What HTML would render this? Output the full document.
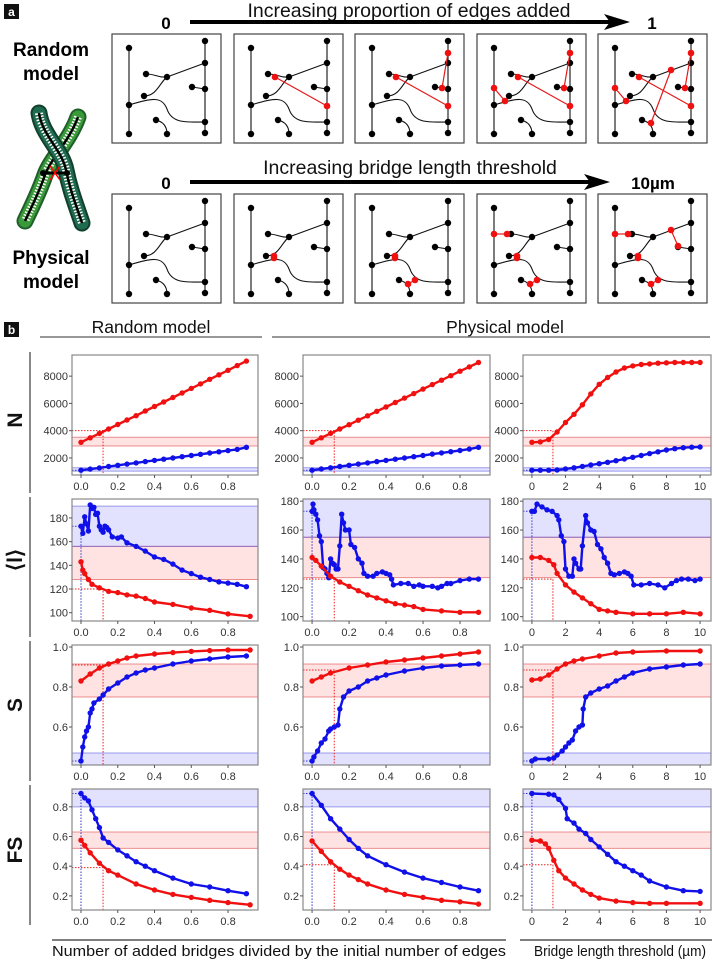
<!DOCTYPE html>
<html><head><meta charset="utf-8"><style>
html,body{margin:0;padding:0;background:#fff;}
svg{display:block;font-family:"Liberation Sans",sans-serif;}
</style></head><body>
<svg id="fig" width="713" height="960" viewBox="0 0 713 960" xmlns="http://www.w3.org/2000/svg">
<g id="panelA">
 <rect x="4" y="4" width="15" height="15" fill="#111"/>
 <text x="11.5" y="16" font-size="12" font-weight="bold" fill="#fff" text-anchor="middle">a</text>
 <text x="409" y="17" font-size="19.5" text-anchor="middle" fill="#111">Increasing proportion of edges added</text>
 <text x="166" y="29" font-size="17" font-weight="bold" text-anchor="middle">0</text>
 <line x1="190" y1="22" x2="614" y2="22" stroke="#000" stroke-width="4"/>
 <polygon points="604,14 630,22 604,30 610,22" fill="#000"/>
 <text x="652" y="29" font-size="17" font-weight="bold" text-anchor="middle">1</text>
 <text x="410" y="174" font-size="19.5" text-anchor="middle" fill="#111">Increasing bridge length threshold</text>
 <text x="166" y="189" font-size="17" font-weight="bold" text-anchor="middle">0</text>
 <line x1="190" y1="182" x2="594" y2="182" stroke="#000" stroke-width="4"/>
 <polygon points="584,174 610,182 584,190 590,182" fill="#000"/>
 <text x="653" y="189" font-size="17" font-weight="bold" text-anchor="middle">10µm</text>
 <text x="51" y="56" font-size="19" font-weight="bold" text-anchor="middle"><tspan x="51">Random</tspan><tspan x="51" dy="24">model</tspan></text>
 <text x="51" y="264" font-size="19" font-weight="bold" text-anchor="middle"><tspan x="51">Physical</tspan><tspan x="51" dy="24">model</tspan></text>
 <g>
  <path d="M78,117 C70,140 50,160 45,175 C38,195 30,210 25,221" fill="none" stroke="#1e5f2a" stroke-width="17" stroke-linecap="round"/>
  <path d="M78,117 C70,140 50,160 45,175 C38,195 30,210 25,221" fill="none" stroke="#3a9a3a" stroke-width="13" stroke-linecap="round"/>
  <path d="M78,117 C70,140 50,160 45,175 C38,195 30,210 25,221" fill="none" stroke="#fff" stroke-width="8" stroke-dasharray="1.5 1.5"/>
  <path d="M78,117 C70,140 50,160 45,175 C38,195 30,210 25,221" fill="none" stroke="#000" stroke-width="2.5"/>
  <path d="M39,113 C42,135 62,150 66,170 C70,190 76,205 82,223" fill="none" stroke="#123f2e" stroke-width="17" stroke-linecap="round"/>
  <path d="M39,113 C42,135 62,150 66,170 C70,190 76,205 82,223" fill="none" stroke="#1f6b50" stroke-width="13" stroke-linecap="round"/>
  <path d="M39,113 C42,135 62,150 66,170 C70,190 76,205 82,223" fill="none" stroke="#fff" stroke-width="8" stroke-dasharray="1.5 1.5"/>
  <path d="M39,113 C42,135 62,150 66,170 C70,190 76,205 82,223" fill="none" stroke="#000" stroke-width="2.5"/>
  <line x1="43" y1="173" x2="67" y2="173" stroke="#000" stroke-width="3"/>
  <circle cx="43" cy="173" r="3" fill="#000"/><circle cx="67" cy="173" r="3" fill="#000"/>
  <path d="M50,166 L60,180 M60,166 L50,180" stroke="#f00" stroke-width="1.5"/>
 </g>
 <g id="boxes"></g>
</g>
<g id="panelB">
 <rect x="4" y="322" width="15" height="15" fill="#111"/>
 <text x="11.5" y="334" font-size="12" font-weight="bold" fill="#fff" text-anchor="middle">b</text>
 <text x="151" y="333" font-size="17.5" text-anchor="middle" fill="#111">Random model</text>
 <line x1="40" y1="337" x2="262" y2="337" stroke="#777" stroke-width="1.5"/>
 <text x="505" y="333" font-size="17.5" text-anchor="middle" fill="#111">Physical model</text>
 <line x1="272" y1="337" x2="710" y2="337" stroke="#777" stroke-width="1.5"/>
 <line x1="52" y1="940" x2="506" y2="940" stroke="#555" stroke-width="1.5"/>
 <text x="52" y="956" font-size="15" textLength="454" lengthAdjust="spacingAndGlyphs" fill="#111">Number of added bridges divided by the initial number of edges</text>
 <line x1="520" y1="940" x2="712" y2="940" stroke="#555" stroke-width="1.5"/>
 <text x="534" y="956" font-size="15" textLength="172" lengthAdjust="spacingAndGlyphs" fill="#111">Bridge length threshold (µm)</text>
 <g id="charts"></g>
</g>
</svg>
<script>
// ---------- chart data ----------
const xTicksFrac = [0, 0.2, 0.4, 0.6, 0.8];
const xTickLabelsFrac = ["0.0", "0.2", "0.4", "0.6", "0.8"];
const xTicksThr = [0, 2, 4, 6, 8, 10];
const xTickLabelsThr = ["0", "2", "4", "6", "8", "10"];
const yTicksN = [2000, 4000, 6000, 8000];
const yTicksL = [100, 120, 140, 160, 180];
const yTicksS = [0.6, 0.8, 1.0];
const yTickLabelsS = ["0.6", "0.8", "1.0"];
const yTicksFS = [0.2, 0.4, 0.6, 0.8];
const yTickLabelsFS = ["0.2", "0.4", "0.6", "0.8"];

const fracX = [0,0.05,0.1,0.15,0.2,0.25,0.3,0.35,0.4,0.45,0.5,0.55,0.6,0.65,0.7,0.75,0.8,0.85,0.9];
// N row
const nRandRed = [3150,3480,3800,4120,4450,4780,5100,5440,5770,6100,6430,6760,7100,7430,7770,8100,8430,8770,9100];
const nRandBlue = [1100,1180,1270,1370,1460,1550,1640,1730,1820,1910,2000,2090,2180,2270,2360,2450,2540,2630,2780];
const nPhysRed = [3150,3480,3800,4120,4440,4770,5090,5420,5740,6070,6390,6720,7050,7380,7700,8030,8360,8680,9000];
const nPhysBlue = [1100,1190,1280,1370,1460,1550,1640,1730,1820,1910,2000,2090,2180,2280,2370,2460,2550,2650,2780];
const thrXN = [0,0.5,1,1.5,2,2.5,3,3.5,4,4.5,5,5.5,6,6.5,7,7.5,8,8.5,9,9.5,10];
const nThrRed = [3150,3180,3350,3900,4600,5200,5900,6700,7400,7900,8300,8600,8750,8850,8900,8950,8980,9000,9000,9000,9000];
const nThrBlue = [1100,1100,1100,1120,1200,1280,1380,1480,1580,1680,1800,1920,2050,2180,2320,2450,2580,2680,2750,2790,2800];
// <l> row
const lRandBlueX = [0,0.01,0.02,0.03,0.04,0.05,0.06,0.07,0.08,0.09,0.1,0.11,0.12,0.13,0.14,0.15,0.17,0.2,0.22,0.25,0.3,0.35,0.4,0.45,0.5,0.55,0.6,0.65,0.7,0.75,0.8,0.85,0.9];
const lRandBlue = [173,167,181,175,169,191,188,189,183,184,173,170,168,173,172,170,164,163,164,159,156,152,147,145,141,136,133,130,128,126,125,124,122];
const lRandRedX = [0,0.01,0.02,0.04,0.06,0.1,0.15,0.2,0.25,0.3,0.35,0.4,0.5,0.6,0.7,0.8,0.92];
const lRandRed = [143,136,133,128,124,121,118,117,115,114,112,109,107,104,102,99,97];
const lPhysBlueX = [0,0.005,0.01,0.02,0.03,0.04,0.05,0.06,0.07,0.08,0.09,0.1,0.11,0.12,0.13,0.14,0.15,0.16,0.17,0.18,0.2,0.21,0.23,0.25,0.27,0.28,0.3,0.33,0.35,0.38,0.4,0.42,0.43,0.44,0.48,0.52,0.55,0.58,0.6,0.65,0.68,0.7,0.73,0.75,0.8,0.85,0.9];
const lPhysBlue = [173,178,174,171,167,156,152,134,133,130,127,140,137,136,133,133,149,171,165,160,160,150,148,140,137,130,128,128,130,131,130,129,126,122,123,123,121,122,121,121,120,121,123,123,125,126,126];
const lPhysRedX = [0,0.02,0.05,0.1,0.15,0.2,0.25,0.3,0.35,0.4,0.45,0.5,0.55,0.6,0.7,0.8,0.9];
const lPhysRed = [141,139,135,128,124,121,118,115,113,111,109,108,107,105,104,103,103];
const lThrBlueX = [0,0.15,0.3,0.6,0.9,1.2,1.5,1.6,1.75,1.9,2.0,2.2,2.4,2.5,2.6,2.8,2.9,3.0,3.2,3.3,3.5,3.7,3.9,4.1,4.3,4.5,4.7,4.9,5.2,5.5,5.7,5.9,6.06,6.5,7,7.5,7.9,8.3,8.6,8.9,9.3,9.7,10];
const lThrBlue = [173,173,178,176,174,173,170,167,156,152,133,128,128,140,137,133,133,149,170,165,160,159,150,147,141,137,130,129,130,131,130,128,122,122,123,122,120,123,125,126,126,125,126];
const lThrRedX = [0,0.5,1,1.3,1.5,2,2.5,3,3.5,4,4.5,5,6,7,8,9,10];
const lThrRed = [141,141,139,136,130,122,117,113,109,105,104,103,102,102,102,103,102];
// S row
const sRandRedX = [0,0.05,0.1,0.15,0.2,0.25,0.3,0.4,0.5,0.6,0.7,0.8,0.92];
const sRandRed = [0.83,0.865,0.895,0.915,0.93,0.945,0.955,0.965,0.972,0.978,0.982,0.985,0.985];
const sRandBlueX = [0,0.01,0.02,0.03,0.04,0.05,0.06,0.07,0.1,0.12,0.15,0.2,0.25,0.3,0.35,0.4,0.5,0.6,0.7,0.8,0.9];
const sRandBlue = [0.43,0.50,0.55,0.58,0.60,0.67,0.69,0.72,0.74,0.76,0.79,0.82,0.85,0.87,0.885,0.895,0.915,0.93,0.94,0.95,0.955];
const sPhysRedX = [0,0.05,0.1,0.2,0.3,0.4,0.5,0.6,0.7,0.8,0.9];
const sPhysRed = [0.83,0.85,0.87,0.895,0.91,0.925,0.935,0.945,0.955,0.965,0.975];
const sPhysBlueX = [0,0.01,0.03,0.05,0.07,0.09,0.1,0.12,0.14,0.15,0.17,0.2,0.25,0.3,0.35,0.4,0.5,0.6,0.7,0.8,0.9];
const sPhysBlue = [0.43,0.45,0.48,0.52,0.54,0.58,0.59,0.60,0.61,0.69,0.75,0.78,0.80,0.83,0.845,0.86,0.88,0.895,0.905,0.91,0.915];
const sThrRedX = [0,0.5,1,1.5,2,2.5,3,4,5,6,8,10];
const sThrRed = [0.835,0.84,0.86,0.89,0.915,0.93,0.94,0.955,0.97,0.975,0.98,0.98];
const sThrBlueX = [0,0.2,1,1.3,1.5,1.8,2,2.2,2.4,2.6,2.8,3,3.05,3.2,3.5,4,4.5,5,5.5,6,7,8,9,10];
const sThrBlue = [0.43,0.44,0.44,0.445,0.46,0.48,0.5,0.52,0.535,0.58,0.60,0.61,0.69,0.75,0.77,0.79,0.805,0.83,0.85,0.87,0.89,0.90,0.91,0.915];
// FS row
const fRandBlueX = [0,0.02,0.04,0.06,0.08,0.1,0.12,0.15,0.2,0.25,0.3,0.35,0.4,0.5,0.6,0.7,0.8,0.9];
const fRandBlue = [0.89,0.86,0.84,0.78,0.72,0.66,0.59,0.56,0.51,0.47,0.43,0.40,0.37,0.32,0.28,0.26,0.235,0.215];
const fRandRedX = [0,0.02,0.05,0.1,0.15,0.2,0.3,0.4,0.5,0.6,0.7,0.8,0.92];
const fRandRed = [0.575,0.54,0.49,0.42,0.37,0.34,0.28,0.24,0.21,0.19,0.17,0.155,0.14];
const fPhysX = [0,0.05,0.1,0.15,0.2,0.25,0.3,0.4,0.5,0.6,0.7,0.8,0.9];
const fPhysBlue = [0.89,0.81,0.72,0.65,0.58,0.52,0.47,0.41,0.36,0.32,0.29,0.26,0.235];
const fPhysRed = [0.57,0.50,0.43,0.38,0.34,0.31,0.28,0.24,0.21,0.19,0.17,0.16,0.145];
const fThrBlueX = [0,1,1.3,1.6,2,2.1,2.5,2.8,3.2,3.5,4,4.5,5,5.5,6,6.5,7,8,9,10];
const fThrBlue = [0.89,0.885,0.88,0.85,0.79,0.72,0.69,0.65,0.62,0.58,0.53,0.48,0.43,0.40,0.37,0.34,0.30,0.26,0.235,0.23];
const fThrRedX = [0,0.5,0.8,1,1.3,1.6,2,2.5,3,3.5,4,5,6,7,8,10];
const fThrRed = [0.575,0.57,0.55,0.52,0.44,0.37,0.32,0.28,0.24,0.21,0.185,0.165,0.155,0.15,0.15,0.15];

const NS = "http://www.w3.org/2000/svg";
function mk(tag, attrs, parent){ const e=document.createElementNS(NS,tag); for(const k in attrs) e.setAttribute(k,attrs[k]); if(parent) parent.appendChild(e); return e; }

const cols = [
 {x0:72,x1:258,dom:[-0.049,0.963],ticks:xTicksFrac,labels:xTickLabelsFrac,thr:0.12,name:'random'},
 {x0:303,x1:490,dom:[-0.049,0.962],ticks:xTicksFrac,labels:xTickLabelsFrac,thr:0.12,name:'physical-fraction'},
 {x0:523,x1:711,dom:[-0.53,10.65],ticks:xTicksThr,labels:xTickLabelsThr,thr:1.25,name:'physical-threshold'}
];
const rowsDef = [
 {y0:355,y1:475,label:'N',lc:420,lt:352,lb:493,
  dom:[[750,9550],[750,9550],[750,9550]], ticks:yTicksN, tl:yTicksN.map(String),
  bandB:[1030,1280], bandR:[2880,3520], refB:1100, refR:[4000,4000,4000],
  series:[[fracX,nRandRed,fracX,nRandBlue],[fracX,nPhysRed,fracX,nPhysBlue],[thrXN,nThrRed,thrXN,nThrBlue]]},
 {y0:499,y1:621,label:'⟨l⟩',lc:560,lt:497,lb:637,
  dom:[[93,196],[97,181.5],[97,181.5]], ticks:yTicksL, tl:yTicksL.map(String),
  bandBs:[[156,190],[155,181.5],[155,181.5]], bandRs:[[128,156],[127,155],[127,155]], refB:173, refR:[120,126,126],
  series:[[lRandRedX,lRandRed,lRandBlueX,lRandBlue],[lPhysRedX,lPhysRed,lPhysBlueX,lPhysBlue],[lThrRedX,lThrRed,lThrBlueX,lThrBlue]]},
 {y0:645,y1:765,label:'S',lc:705,lt:641,lb:781,
  dom:[[0.41,1.01],[0.41,1.01],[0.41,1.01]], ticks:yTicksS, tl:yTickLabelsS,
  bandB:[0.41,0.47], bandR:[0.75,0.915], refB:0.43, refR:[0.91,0.885,0.885],
  series:[[sRandRedX,sRandRed,sRandBlueX,sRandBlue],[sPhysRedX,sPhysRed,sPhysBlueX,sPhysBlue],[sThrRedX,sThrRed,sThrBlueX,sThrBlue]]},
 {y0:789,y1:910,label:'FS',lc:850,lt:785,lb:925,
  dom:[[0.105,0.92],[0.105,0.92],[0.105,0.92]], ticks:yTicksFS, tl:yTickLabelsFS,
  bandB:[0.8,0.92], bandR:[0.52,0.63], refB:0.89, refR:[0.39,0.41,0.41],
  series:[[fRandRedX,fRandRed,fRandBlueX,fRandBlue],[fPhysX,fPhysRed,fPhysX,fPhysBlue],[fThrRedX,fThrRed,fThrBlueX,fThrBlue]]}
];

const charts = document.getElementById('charts');
rowsDef.forEach((r, ri) => {
  const lbl = mk('text',{x:0,y:0,'font-size':21,'font-weight':'bold','text-anchor':'middle',transform:`translate(22,${r.lc}) rotate(-90)`,fill:'#111'},charts);
  lbl.textContent = r.label;
  
  
  const vl = mk('line',{x1:30,y1:r.lt,x2:30,y2:r.lb,stroke:'#888','stroke-width':2},charts);
  
  
  cols.forEach((c, ci) => {
    const g = mk('g',{},charts);
    
    
    const [ymin,ymax] = r.dom[ci];
    const sx = v => c.x0 + (v - c.dom[0])/(c.dom[1]-c.dom[0])*(c.x1-c.x0);
    const sy = v => r.y1 - (v - ymin)/(ymax-ymin)*(r.y1-r.y0);
    const cy = v => Math.max(r.y0, Math.min(r.y1, sy(v)));
    const bB = r.bandBs ? r.bandBs[ci] : r.bandB;
    const bR = r.bandRs ? r.bandRs[ci] : r.bandR;
    const band = (b, fill, stroke, nm) => {
      const t = cy(b[1]), bt = cy(b[0]);
      const rc = mk('rect',{x:c.x0,y:t,width:c.x1-c.x0,height:bt-t,fill:fill},g);
      
      
      if (b[1] < ymax) mk('line',{x1:c.x0,x2:c.x1,y1:t,y2:t,stroke:stroke,'stroke-width':1},g);
      if (b[0] > ymin) mk('line',{x1:c.x0,x2:c.x1,y1:bt,y2:bt,stroke:stroke,'stroke-width':1},g);
    };
    band(bR,'rgba(255,60,60,0.15)','rgba(220,60,60,0.55)','red-band');
    band(bB,'rgba(60,60,255,0.15)','rgba(80,80,220,0.55)','blue-band');
    const yr = sy(r.refR[ci]);
    const rl = mk('path',{d:`M${c.x0},${yr}H${sx(c.thr)}V${r.y1}`,fill:'none',stroke:'#e22','stroke-width':1,'stroke-dasharray':'1.5 1.5'},g);
    
    
    const yb = sy(r.refB);
    const bl = mk('path',{d:`M${c.x0},${yb}H${sx(0)}V${r.y1}`,fill:'none',stroke:'#33c','stroke-width':1,'stroke-dasharray':'1.5 1.5'},g);
    
    
    const s = r.series[ci];
    const draw = (xs, ys, col, nm) => {
      const pts = xs.map((x,i)=>sx(x).toFixed(1)+','+sy(ys[i]).toFixed(1)).join(' ');
      const pl = mk('polyline',{points:pts,fill:'none',stroke:col,'stroke-width':2.4,'stroke-linejoin':'round','stroke-linecap':'round'},g);
      
      
      xs.forEach((x,i)=>{
        const d = mk('circle',{cx:sx(x).toFixed(1),cy:sy(ys[i]).toFixed(1),r:2.7,fill:col},g);
        
        
      });
    };
    draw(s[2], s[3], '#1010e8', 'blue-series');
    draw(s[0], s[1], '#f01010', 'red-series');
    const fr = mk('rect',{x:c.x0,y:r.y0,width:c.x1-c.x0,height:r.y1-r.y0,fill:'none',stroke:'#888','stroke-width':1.2},g);
    
    
    c.ticks.forEach((t,i)=>{
      const x = sx(t);
      mk('line',{x1:x,x2:x,y1:r.y1,y2:r.y1+3,stroke:'#555','stroke-width':1},g);
      const tx = mk('text',{x:x,y:r.y1+15,'font-size':11,'text-anchor':'middle',fill:'#333'},g);
      tx.textContent = c.labels[i];
      
      
    });
    r.ticks.forEach((t,i)=>{
      const y = sy(t);
      mk('line',{x1:c.x0-3,x2:c.x0,y1:y,y2:y,stroke:'#555','stroke-width':1},g);
      const ty = mk('text',{x:c.x0-4,y:y+4,'font-size':11,'text-anchor':'end',fill:'#333'},g);
      ty.textContent = r.tl[i];
      
      
    });
  });
});

// ---------- panel a network boxes ----------
const boxXs = [112, 234, 355, 477, 598];
const boxYs = [34, 194];
const baseNodes = [[17,14],[17,71],[17,100],[93,7],[93,29],[93,55],[93,88],[93,99],[55,43],[34,40],[32,62],[80,53],[44,86],[55,100]];
const randRed = [
 [],
 [[[41,43],[93,72]]],
 [[[41,43],[93,72]],[[93,19],[87,54]]],
 [[[41,43],[93,72]],[[93,19],[87,54]],[[17,54],[28,67]]],
 [[[41,43],[93,72]],[[93,19],[87,54]],[[17,54],[28,67]],[[73,36],[53,89]]]
];
const physRed = [
 [],
 [[[40,62],[40,64]]],
 [[[40,62],[40,64]],[[53,90],[60,86]]],
 [[[40,62],[40,64]],[[53,90],[60,86]],[[17,40],[30,40]]],
 [[[40,62],[40,64]],[[53,90],[60,86]],[[17,40],[30,40]],[[73,36],[80,52]]]
];
const boxes = document.getElementById('boxes');
boxYs.forEach((by, rIdx) => {
  boxXs.forEach((bx, k) => {
    const g = mk('g',{transform:`translate(${bx},${by})`},boxes);
    
    
    mk('rect',{x:0,y:0,width:109,height:109,fill:'#fff',stroke:'#444','stroke-width':1.2},g);
    const p = 'M17,14V100 M93,7V99 M55,43L93,29 M34,40C45,40 45,44 55,43 M32,62C45,62 48,48 55,43 M80,53L93,55 M17,71C40,64 50,62 55,75C60,90 75,88 93,88 M44,86C52,88 55,93 55,100';
    mk('path',{d:p,fill:'none',stroke:'#111','stroke-width':1.1},g);
    baseNodes.forEach(n=>mk('circle',{cx:n[0],cy:n[1],r:3.2,fill:'#000'},g));
    const reds = rIdx ? physRed[k] : randRed[k];
    reds.forEach(e=>{
      mk('line',{x1:e[0][0],y1:e[0][1],x2:e[1][0],y2:e[1][1],stroke:'#e51a1a','stroke-width':1.2},g);
      mk('circle',{cx:e[0][0],cy:e[0][1],r:3.3,fill:'#f01010'},g);
      mk('circle',{cx:e[1][0],cy:e[1][1],r:3.3,fill:'#f01010'},g);
    });
  });
});
</script>
</body></html>
